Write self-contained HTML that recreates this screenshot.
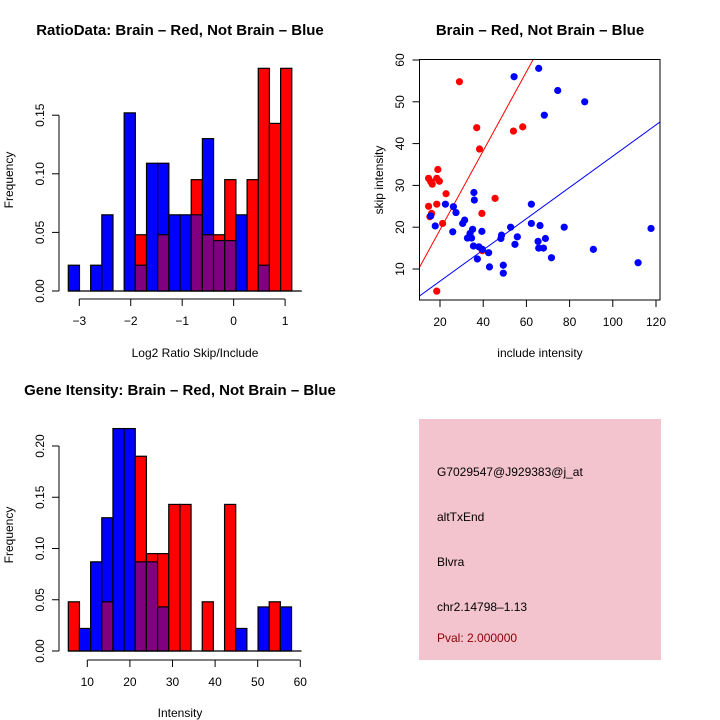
<!DOCTYPE html>
<html><head><meta charset="utf-8"><style>
html,body{margin:0;padding:0;background:#fff;}
svg{display:block;font-family:"Liberation Sans",sans-serif;}
</style></head><body>
<svg id="s" width="720" height="720" viewBox="0 0 720 720">
<text x="180" y="35" font-size="15" font-weight="bold" text-anchor="middle">RatioData: Brain – Red, Not Brain – Blue</text>
<text x="540" y="35" font-size="15" font-weight="bold" text-anchor="middle">Brain – Red, Not Brain – Blue</text>
<text x="180" y="395" font-size="15" font-weight="bold" text-anchor="middle">Gene Itensity: Brain – Red, Not Brain – Blue</text>
<text x="195" y="357" font-size="12" text-anchor="middle">Log2 Ratio Skip/Include</text>
<text x="13" y="180" font-size="12" text-anchor="middle" transform="rotate(-90 13 180)">Frequency</text>
<text x="540" y="357" font-size="12" text-anchor="middle">include intensity</text>
<text x="383" y="180" font-size="12" text-anchor="middle" transform="rotate(-90 383 180)">skip intensity</text>
<text x="180" y="717" font-size="12" text-anchor="middle">Intensity</text>
<text x="13" y="535" font-size="12" text-anchor="middle" transform="rotate(-90 13 535)">Frequency</text>
<g>
<rect x="419" y="419" width="242" height="241" fill="#f3c3ce"/>
<text x="437" y="476" font-size="12">G7029547@J929383@j_at</text>
<text x="437" y="521" font-size="12">altTxEnd</text>
<text x="437" y="566" font-size="12">Blvra</text>
<text x="437" y="611" font-size="12">chr2.14798–1.13</text>
<text x="437" y="642" font-size="12" fill="#8b0000">Pval: 2.000000</text>
</g>
</svg>
<script>
// Ratio histogram data
const ratioBinStart = -3.214, ratioBinWidth = 0.2172;
const ratioBlue = [0.022,0,0.022,0.065,0,0.152,0.022,0.109,0.109,0.065,0.065,0.065,0.13,0.043,0.043,0.065,0,0.022,0,0];
const ratioRed  = [0,0,0,0,0,0,0.048,0,0.048,0,0,0.095,0.048,0.048,0.095,0,0.095,0.19,0.143,0.19];
const ratioXTicks = [-3,-2,-1,0,1];
const ratioYTicks = [0,0.05,0.10,0.15];
const ratioYLabels = ["0.00","0.05","0.10","0.15"];
// Intensity histogram data
const intBinStart = 5.54, intBinWidth = 2.62;
const intBlue = [0,0.022,0.087,0.13,0.217,0.217,0.087,0.087,0.043,0,0,0,0,0,0,0.022,0,0.043,0,0.043];
const intRed  = [0.048,0,0,0.048,0,0,0.19,0.095,0.095,0.143,0.143,0,0.048,0,0.143,0,0,0,0.048,0];
const intXTicks = [10,20,30,40,50,60];
const intYTicks = [0,0.05,0.10,0.15,0.20];
const intYLabels = ["0.00","0.05","0.10","0.15","0.20"];
// Scatter data
const redX = [29,37,54,58.3,38.3,19,14.7,15.7,16.4,18.5,19.7,22.8,14.7,18.5,16.1,15.3,21.2,45.5,39.4,39.6,18.5];
const redY = [54.8,43.8,43,44,38.7,33.8,31.7,30.9,30.3,31.7,31,28,25,25.5,23.3,22.5,20.9,26.9,23.3,14.4,4.7];
const blueX = [65.7,54.3,74.5,87,68.3,62.3,35.7,35.9,22.5,26.2,27.4,15.7,17.8,25.9,30.5,31.4,35.1,33.9,32.7,34.6,35.5,38,39.6,39.4,37.3,42.5,42.9,48.5,48.2,49.3,49.3,52.7,55.8,54.7,62.3,66.3,65.4,65.7,67.9,68.8,71.6,77.5,91,111.7,117.7];
const blueY = [58,56,52.7,50,46.8,25.5,28.3,26.5,25.5,24.9,23.5,22.7,20.3,18.9,20.9,21.7,19.5,18.5,17.4,17.4,15.5,15.3,14.7,19,12.4,13.9,10.5,18.1,17.3,10.9,9,20,17.7,15.9,20.9,20.4,16.6,15,15,17.3,12.7,20,14.7,11.5,19.7];
const scXTicks = [20,40,60,80,100,120];
const scYTicks = [10,20,30,40,50,60];
const redFit = [0.945,0.47];
const blueFit = [0.374,-0.4];

const NS="http://www.w3.org/2000/svg";
const svg=document.getElementById('s');
function mk(tag,attrs,parent){const e=document.createElementNS(NS,tag);for(const k in attrs)e.setAttribute(k,attrs[k]);(parent||svg).appendChild(e);return e;}

function hist(name,bs,bw,blue,red,xs,ys,xTicks,yTicks,yLabels,axY,yAxX){
  const g=mk('g',{});
  
  
  for(let i=0;i<blue.length;i++){
    const x0=xs(bs+i*bw),x1=xs(bs+(i+1)*bw);
    const b=blue[i],r=red[i];
    const bars=[];
    if(b>0&&r>0){ if(b>=r){bars.push(['#0000ff',b,'blue']);bars.push(['#800080',r,'overlap']);} else {bars.push(['#ff0000',r,'red']);bars.push(['#800080',b,'overlap']);} }
    else if(b>0) bars.push(['#0000ff',b,'blue']);
    else if(r>0) bars.push(['#ff0000',r,'red']);
    bars.forEach(([c,v,k])=>{
      const rc=mk('rect',{x:x0,y:ys(v),width:x1-x0,height:ys(0)-ys(v),fill:c,stroke:'#000','stroke-width':1.2},g);
      
      
    });
  }
  const bl=mk('line',{x1:xs(bs),x2:xs(bs+blue.length*bw)+10,y1:ys(0),y2:ys(0),stroke:'#000','stroke-width':1.2},g);
  
  
  const xa=mk('g',{},g);
  
  
  mk('line',{x1:xs(xTicks[0]),x2:xs(xTicks[xTicks.length-1]),y1:axY,y2:axY,stroke:'#000'},xa);
  xTicks.forEach(t=>{mk('line',{x1:xs(t),x2:xs(t),y1:axY,y2:axY+7,stroke:'#000'},xa);
    const tx=mk('text',{x:xs(t),y:axY+26,'font-size':12,'text-anchor':'middle'},xa);tx.textContent=(t<0?'−'+(-t):String(t));
    
    });
  const ya=mk('g',{},g);
  
  
  mk('line',{x1:yAxX,x2:yAxX,y1:ys(yTicks[0]),y2:ys(yTicks[yTicks.length-1]),stroke:'#000'},ya);
  yTicks.forEach((t,i)=>{mk('line',{x1:yAxX,x2:yAxX-7,y1:ys(t),y2:ys(t),stroke:'#000'},ya);
    const tx=mk('text',{x:yAxX-15,y:ys(t),'font-size':12,'text-anchor':'middle',transform:`rotate(-90 ${yAxX-15} ${ys(t)})`},ya);tx.textContent=yLabels[i];
    
    });
}
hist('ratio-histogram',ratioBinStart,ratioBinWidth,ratioBlue,ratioRed,
  v=>79.3+(v+3)*51.45, v=>291-v*1172, ratioXTicks,ratioYTicks,ratioYLabels,299,59);
hist('intensity-histogram',intBinStart,intBinWidth,intBlue,intRed,
  v=>87.3+(v-10)*4.26, v=>651-v*1025, intXTicks,intYTicks,intYLabels,660,59);

// scatter
const sx=v=>440+(v-20)*2.16, sy=v=>269-(v-10)*4.18;
const sg=mk('g',{});


const cp=mk('clipPath',{id:'cp'},sg);mk('rect',{x:419.5,y:59.5,width:240.5,height:240.5},cp);
const lg=mk('g',{'clip-path':'url(#cp)'},sg);
[[redFit,'#ff0000','red-fit-line'],[blueFit,'#0000ff','blue-fit-line']].forEach(([f,c,n])=>{
  const l=mk('line',{x1:sx(0),y1:sy(f[1]),x2:sx(130),y2:sy(f[0]*130+f[1]),stroke:c,'stroke-width':1},lg);
  
  
});
redX.forEach((x,i)=>{const c=mk('circle',{cx:sx(x),cy:sy(redY[i]),r:3.6,fill:'#ff0000'},sg);
  
  });
blueX.forEach((x,i)=>{const c=mk('circle',{cx:sx(x),cy:sy(blueY[i]),r:3.6,fill:'#0000ff'},sg);
  
  });
const fr=mk('rect',{x:419.5,y:59.5,width:240.5,height:240.5,fill:'none',stroke:'#000'},sg);


scXTicks.forEach(t=>{mk('line',{x1:sx(t),x2:sx(t),y1:300,y2:307,stroke:'#000'},sg);
  const tx=mk('text',{x:sx(t),y:326,'font-size':12,'text-anchor':'middle'},sg);tx.textContent=t;
  
  });
scYTicks.forEach(t=>{mk('line',{x1:419.5,x2:412.5,y1:sy(t),y2:sy(t),stroke:'#000'},sg);
  const tx=mk('text',{x:404,y:sy(t),'font-size':12,'text-anchor':'middle',transform:`rotate(-90 404 ${sy(t)})`},sg);tx.textContent=t;
  
  });
</script>
</body></html>
